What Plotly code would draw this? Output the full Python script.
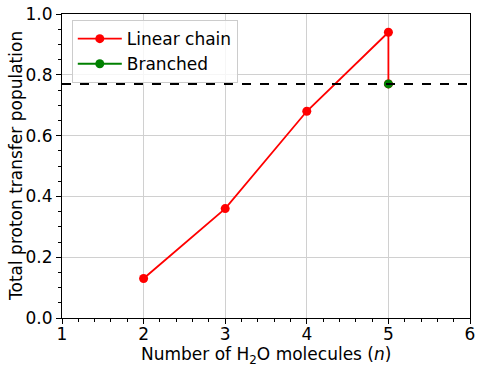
import plotly.graph_objs as go

# data
N_LINEAR = [2, 3, 4, 5]
POP_LINEAR = [0.13, 0.36, 0.68, 0.94]
N_BRANCHED = [5]
POP_BRANCHED = [0.77]
REFERENCE_LEVEL = 0.77

FONT = "DejaVu Sans"
FS = 17
X_AXIS = "Number of H<sub>2</sub>O molecules (<i>n</i>)"
Y_AXIS = "Total proton transfer population"


def format_layout():
    axis_common = dict(
        showline=True,
        linecolor="black",
        linewidth=1,
        mirror=True,
        ticks="outside",
        ticklen=5,
        tickcolor="black",
        showgrid=True,
        gridcolor="#d0d0d0",
        gridwidth=1.2,
        zeroline=False,
        automargin=False,
        tickfont=dict(family=FONT, size=FS, color="black"),
    )
    layout = go.Layout(
        width=484,
        height=372,
        margin=dict(l=62, r=14, t=14, b=54),
        paper_bgcolor="white",
        plot_bgcolor="white",
        font=dict(family=FONT, size=FS, color="black"),
        showlegend=True,
        legend=dict(
            x=0.024, y=0.98, xanchor="left", yanchor="top",
            bgcolor="rgba(255,255,255,0.8)",
            bordercolor="#cccccc", borderwidth=1,
            font=dict(family=FONT, size=FS),
            itemwidth=44,
        ),
        xaxis=dict(
            range=[1, 6],
            dtick=1,
            ticklabelstandoff=-4,
            minor=dict(dtick=0.2, ticks="outside", ticklen=3, tickcolor="black", showgrid=False),
            **axis_common
        ),
        yaxis=dict(
            range=[0, 1.0],
            dtick=0.2,
            tickformat=".1f",
            minor=dict(dtick=0.05, ticks="outside", ticklen=3, tickcolor="black", showgrid=False),
            **axis_common
        ),
        annotations=[
            dict(text=X_AXIS, xref="paper", yref="paper", x=0.5, y=0,
                 xanchor="center", yanchor="top", yshift=-24, showarrow=False,
                 font=dict(family=FONT, size=FS)),
            dict(text=Y_AXIS, xref="paper", yref="paper", x=0, y=0.5,
                 xanchor="center", yanchor="middle", xshift=-46, textangle=-90,
                 showarrow=False, font=dict(family=FONT, size=FS)),
        ],
    )
    return layout


DATA = []
DATA.append(go.Scatter(
    x=N_LINEAR + N_BRANCHED,
    y=POP_LINEAR + POP_BRANCHED,
    mode="lines+markers",
    line=dict(color="red", width=1.8),
    marker=dict(color="red", size=9),
    name="Linear chain",
))
DATA.append(go.Scatter(
    x=N_BRANCHED,
    y=POP_BRANCHED,
    mode="lines+markers",
    line=dict(color="green", width=1.8),
    marker=dict(color="green", size=9),
    name="Branched",
))

fig = go.Figure(data=DATA, layout=format_layout())
fig.add_hline(y=REFERENCE_LEVEL, line=dict(color="black", width=2, dash="dash"))
# the page body has a default 8px margin; drop it so the figure sits at 0,0
fig.write_html("out.html", config={"displayModeBar": False},
               post_script="document.body.style.margin='0';")
